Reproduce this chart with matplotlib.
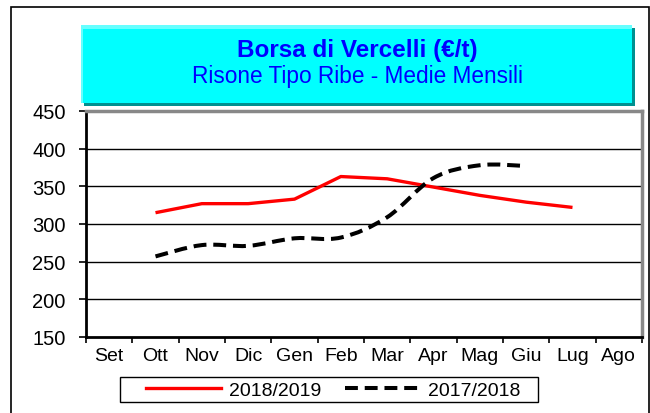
import matplotlib
matplotlib.use("Agg")
import matplotlib.pyplot as plt
from matplotlib.patches import Rectangle, PathPatch
from matplotlib.path import Path
from matplotlib.lines import Line2D
import numpy as np

months = ["Set", "Ott", "Nov", "Dic", "Gen", "Feb", "Mar", "Apr", "Mag", "Giu", "Lug", "Ago"]
s2018_idx = [1, 2, 3, 4, 5, 6, 7, 8, 9, 10]
s2018 = [315, 327, 327, 333, 363, 360, 349, 338, 329, 322]
s2017_idx = [1, 2, 3, 4, 5, 6, 7, 8, 9]
s2017 = [257, 272, 271, 281, 282, 309, 361, 378, 377]
yticks = [150, 200, 250, 300, 350, 400, 450]

plt.rcParams['font.family'] = ['Liberation Sans', 'DejaVu Sans']

fig = plt.figure(figsize=(6.5, 4.14), dpi=100)
W, H = 650.0, 414.0

def fx(px):
    return px / W

def fy(py):
    return 1 - py / H

# outer frame
fig.patches.append(Rectangle((fx(11), -0.2), fx(649) - fx(11), fy(8) + 0.2,
                             transform=fig.transFigure, fill=False, edgecolor='black',
                             linewidth=1.2, clip_on=False))

# title box shadow, box, highlight
fig.patches.append(Rectangle((fx(84), fy(107)), fx(635) - fx(84), fy(29) - fy(107),
                             transform=fig.transFigure, facecolor='#009090', edgecolor='none'))
fig.patches.append(Rectangle((fx(81), fy(104)), fx(632) - fx(81), fy(26) - fy(104),
                             transform=fig.transFigure, facecolor='#66FFFF', edgecolor='none'))
fig.patches.append(Rectangle((fx(83), fy(104)), fx(632) - fx(83), fy(30) - fy(104),
                             transform=fig.transFigure, facecolor='#00FFFF', edgecolor='none'))
fig.text(fx(357), fy(50), "Borsa di Vercelli (€/t)", ha='center', va='center',
         color='#0000FF', fontsize=17.5, fontweight='bold')
fig.text(fx(357), fy(77), "Risone Tipo Ribe - Medie Mensili", ha='center', va='center',
         color='#0000FF', fontsize=16.3)

ax = fig.add_axes([fx(86), fy(338), fx(642) - fx(86), fy(112) - fy(338)])
ax.set_xlim(-0.5, 11.5)
ax.set_ylim(150, 450)
ax.set_yticks(yticks)
ax.set_yticklabels([str(v) for v in yticks], fontsize=14.5)
ax.set_xticks(np.arange(12))
ax.set_xticklabels(months, fontsize=14)
ax.set_xticks(np.arange(-0.5, 12.0, 1.0), minor=True)
ax.tick_params(axis='x', which='major', length=0, pad=7)
ax.tick_params(axis='x', which='minor', length=4, width=1.2, direction='out')
ax.tick_params(axis='y', length=5, width=1.2, direction='out', pad=9.5)
for v in yticks[1:-1]:
    ax.axhline(v, color='black', linewidth=1.0, zorder=1)
ax.spines['left'].set_color('black')
ax.spines['left'].set_linewidth(2.0)
ax.spines['bottom'].set_color('black')
ax.spines['bottom'].set_linewidth(2.0)
ax.spines['top'].set_color('#888888')
ax.spines['top'].set_linewidth(2.5)
ax.spines['right'].set_color('#888888')
ax.spines['right'].set_linewidth(2.5)

dash = (0, (3.2, 1.7))

# 2018/2019 straight line
ax.plot(s2018_idx, s2018, color='#FF0000', linewidth=2.4, solid_capstyle='butt', zorder=3)

# 2017/2018 smoothed (Excel style) dashed line
P = np.column_stack([s2017_idx, s2017]).astype(float)
verts = [P[0]]
codes = [Path.MOVETO]
n = len(P)
for i in range(n - 1):
    p0 = P[i - 1] if i > 0 else P[i]
    p1 = P[i]
    p2 = P[i + 1]
    p3 = P[i + 2] if i + 2 < n else P[i + 1]
    c1 = p1 + (p2 - p0) / 6.0
    c2 = p2 - (p3 - p1) / 6.0
    verts += [c1, c2, p2]
    codes += [Path.CURVE4] * 3
path = Path(verts, codes)
patch = PathPatch(path, facecolor='none', edgecolor='black', linewidth=2.9,
                  linestyle=dash, capstyle='butt', zorder=3)
ax.add_patch(patch)

# legend frame
fig.patches.append(Rectangle((fx(120), fy(403)), fx(538) - fx(120), fy(378) - fy(403),
                             transform=fig.transFigure, facecolor='white',
                             edgecolor='black', linewidth=1.0))
fs = 14
fpx = fs * 100 / 72.0
handles = [Line2D([], [], color='#FF0000', linewidth=2.4),
           Line2D([], [], color='black', linewidth=2.9, linestyle=dash)]
leg = fig.legend(handles, ["2018/2019", "2017/2018"], loc='center left',
                 bbox_to_anchor=(fx(146), fy(391)), ncol=2, fontsize=fs,
                 frameon=False, handlelength=75 / fpx, columnspacing=24 / fpx,
                 handletextpad=8 / fpx, borderpad=0, borderaxespad=0)

fig.savefig("out.png", dpi=100)
